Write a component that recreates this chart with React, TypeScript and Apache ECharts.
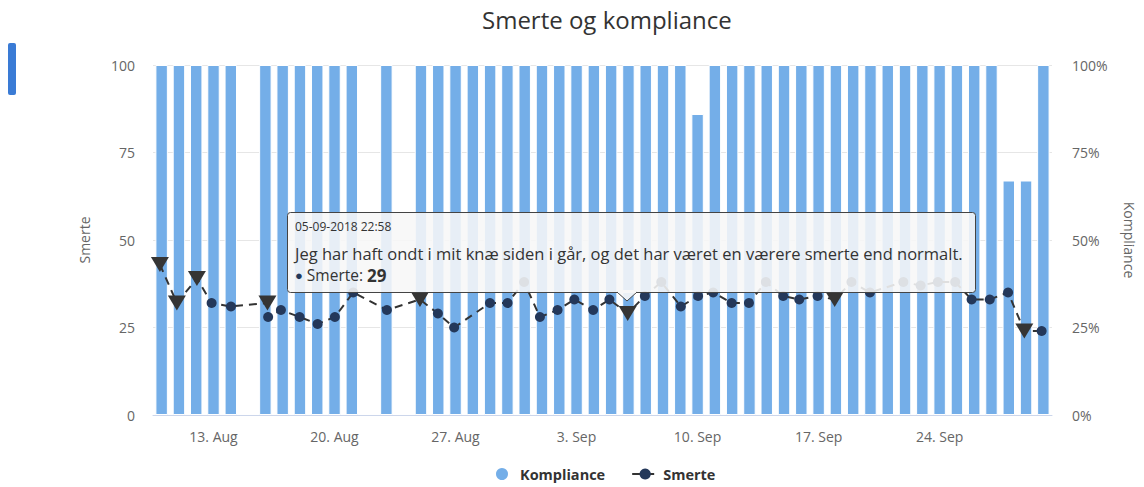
import React, { useEffect, useRef } from 'react';
import * as echarts from 'echarts';

const days = [
  '10. Aug', '11. Aug', '12. Aug', '13. Aug', '14. Aug', '15. Aug', '16. Aug', '17. Aug', '18. Aug', '19. Aug',
  '20. Aug', '21. Aug', '22. Aug', '23. Aug', '24. Aug', '25. Aug', '26. Aug', '27. Aug', '28. Aug', '29. Aug',
  '30. Aug', '31. Aug', '1. Sep', '2. Sep', '3. Sep', '4. Sep', '5. Sep', '6. Sep', '7. Sep', '8. Sep',
  '9. Sep', '10. Sep', '11. Sep', '12. Sep', '13. Sep', '14. Sep', '15. Sep', '16. Sep', '17. Sep', '18. Sep',
  '19. Sep', '20. Sep', '21. Sep', '22. Sep', '23. Sep', '24. Sep', '25. Sep', '26. Sep', '27. Sep', '28. Sep',
  '29. Sep', '30. Sep',
];

const kompliance = [
  100, 100, 100, 100, 100, null, 100, 100, 100, 100,
  100, 100, null, 100, null, 100, 100, 100, 100, 100,
  100, 100, 100, 100, 100, 100, 100, 100, 100, 100,
  100, 86, 100, 100, 100, 100, 100, 100, 100, 100,
  100, 100, 100, 100, 100, 100, 100, 100, 100, 67,
  67, 100,
];

const weekTicks = ['13. Aug', '20. Aug', '27. Aug', '3. Sep', '10. Sep', '17. Sep', '24. Sep'];

const smerteTimes = [
  '2018-08-09 21:36', '2018-08-10 21:07', '2018-08-12 00:58', '2018-08-12 21:22', '2018-08-14 00:14',
  '2018-08-16 02:53', '2018-08-16 03:50', '2018-08-16 21:36', '2018-08-17 23:31', '2018-08-19 00:29',
  '2018-08-20 00:29', '2018-08-21 01:55', '2018-08-23 00:43', '2018-08-24 22:34', '2018-08-25 23:31',
  '2018-08-26 22:05', '2018-08-28 23:46', '2018-08-30 00:14', '2018-08-30 23:10', '2018-08-31 21:07',
  '2018-09-01 21:36', '2018-09-02 20:53', '2018-09-03 23:02', '2018-09-04 21:36', '2018-09-05 22:58',
  '2018-09-06 22:48', '2018-09-07 21:36', '2018-09-09 00:43', '2018-09-10 00:43', '2018-09-10 21:36',
  '2018-09-11 23:17', '2018-09-12 23:17', '2018-09-13 22:48', '2018-09-14 22:48', '2018-09-15 21:07',
  '2018-09-16 22:34', '2018-09-17 22:19', '2018-09-18 21:36', '2018-09-19 23:17', '2018-09-21 21:36',
  '2018-09-22 21:36', '2018-09-23 21:36', '2018-09-24 21:36', '2018-09-25 20:24', '2018-09-26 21:36',
  '2018-09-27 23:02', '2018-09-28 21:36', '2018-09-29 21:36',
];

const smerteValues = [
  43, 32, 39, 32, 31,
  32, 28, 30, 28, 26,
  28, 35, 30, 33, 29,
  25, 32, 32, 38, 28,
  30, 33, 30, 33, 29,
  34, 38, 31, 34, 35,
  32, 32, 38, 34, 33,
  34, 33, 38, 35, 38,
  37, 38, 38, 33, 33,
  35, 24, 24,
];

// 1 = entry with a written note (triangle marker)
const smerteNote = [
  1, 1, 1, 0, 0,
  1, 0, 0, 0, 0,
  0, 0, 0, 1, 0,
  0, 0, 0, 0, 0,
  0, 0, 0, 0, 1,
  0, 0, 0, 0, 0,
  0, 0, 0, 0, 0,
  0, 1, 0, 0, 0,
  0, 0, 0, 0, 0,
  0, 1, 0,
];

const tooltipDate = '05-09-2018 22:58';
const tooltipNote = 'Jeg har haft ondt i mit knæ siden i går, og det har været en værere smerte end normalt.';
const tooltipValue = 29;

const TRI = 'path://M0,0 L12,0 L6,11 Z';
const FONT = 'Open Sans';

export default function App() {
  const ref = useRef<HTMLDivElement>(null);

  useEffect(() => {
    document.body.style.margin = '0';
    const chart = echarts.init(ref.current!, null, { renderer: 'svg' });
    const lineData = smerteTimes.map((t, i) => ({
      value: [t, smerteValues[i]],
      symbol: smerteNote[i] ? TRI : 'circle',
      symbolSize: smerteNote[i] ? [18, 15] : 10,
      itemStyle: { color: smerteNote[i] ? '#353535' : '#24385a' },
    }));
    const TZ = 100;

    chart.setOption({
      animation: false,
      textStyle: { fontFamily: FONT },
      title: {
        text: 'Smerte og kompliance',
        left: 477,
        top: 2,
        textStyle: { fontSize: 24, fontWeight: 'normal', color: '#333', fontFamily: FONT },
      },
      grid: { left: 153, top: 65, width: 899, height: 350 },
      legend: {
        top: 461,
        left: 489,
        itemWidth: 26,
        itemHeight: 14,
        itemGap: 26,
        textStyle: { fontSize: 14.5, fontWeight: 'bold', color: '#333', fontFamily: FONT },
        data: [{ name: 'Kompliance', icon: 'circle' }, { name: 'Smerte' }],
      },
      tooltip: { show: false },
      xAxis: [
        {
          type: 'category',
          data: days,
          axisLine: { lineStyle: { color: '#ccd6eb' } },
          axisTick: { show: false },
          axisLabel: {
            interval: (_i: number, v: string) => weekTicks.includes(v),
            color: '#666',
            fontSize: 14,
            margin: 14,
            fontFamily: FONT,
          },
        },
        {
          type: 'time',
          show: false,
          min: new Date(2018, 7, 9, 12, 0).getTime(),
          max: new Date(2018, 8, 30, 12, 0).getTime(),
        },
      ],
      yAxis: [
        {
          type: 'value',
          min: 0,
          max: 100,
          interval: 25,
          name: 'Smerte',
          nameLocation: 'middle',
          nameGap: 62,
          nameRotate: 90,
          nameTextStyle: { color: '#666', fontSize: 14, fontFamily: FONT },
          axisLabel: { color: '#666', fontSize: 14, margin: 18, fontFamily: FONT },
          axisLine: { show: false },
          axisTick: { show: false },
          splitLine: { lineStyle: { color: '#e6e6e6' } },
        },
        {
          type: 'value',
          position: 'right',
          min: 0,
          max: 100,
          interval: 25,
          name: 'Kompliance',
          nameLocation: 'middle',
          nameGap: 70,
          nameRotate: -90,
          nameTextStyle: { color: '#666', fontSize: 14, fontFamily: FONT },
          axisLabel: { formatter: '{value}%', color: '#666', fontSize: 14, margin: 20, fontFamily: FONT },
          axisLine: { show: false },
          axisTick: { show: false },
          splitLine: { show: false },
        },
      ],
      series: [
        {
          type: 'bar',
          name: 'Kompliance',
          xAxisIndex: 0,
          yAxisIndex: 1,
          data: kompliance,
          barWidth: '72%',
          itemStyle: { color: '#74aee8', borderColor: '#ffffff', borderWidth: 1 },
          z: 1,
        },
        {
          type: 'line',
          name: 'Smerte',
          xAxisIndex: 1,
          yAxisIndex: 0,
          data: lineData,
          symbol: 'circle',
          symbolSize: 10,
          itemStyle: { color: '#24385a' },
          lineStyle: { color: '#333', width: 2, type: [8, 6] },
          z: 3,
        },
      ],
      graphic: [
        {
          type: 'rect',
          left: 8,
          top: 43,
          z: TZ,
          shape: { width: 8, height: 52, r: 2 },
          style: { fill: '#3a7bd5' },
        },
        {
          type: 'polygon',
          z: TZ,
          shape: { points: [[617, 292], [637, 292], [627, 301]] },
          style: { fill: 'rgba(247,247,247,0.9)', stroke: '#444', lineWidth: 1 },
        },
        {
          type: 'rect',
          z: TZ,
          shape: { x: 287.5, y: 212.5, width: 688, height: 80, r: 3 },
          style: { fill: 'rgba(247,247,247,0.88)', stroke: '#444', lineWidth: 1 },
        },
        {
          type: 'rect',
          z: TZ + 1,
          shape: { x: 618, y: 290, width: 18, height: 3 },
          style: { fill: 'rgb(247,247,247)' },
        },
        {
          type: 'text',
          z: TZ + 2,
          x: 295,
          y: 226,
          style: { text: tooltipDate, fontSize: 12, fill: '#333', fontFamily: FONT, verticalAlign: 'middle' },
        },
        {
          type: 'text',
          z: TZ + 2,
          x: 295,
          y: 253,
          style: { text: tooltipNote, fontSize: 16.5, fill: '#333', fontFamily: FONT, verticalAlign: 'middle' },
        },
        {
          type: 'text',
          z: TZ + 2,
          x: 295,
          y: 275,
          style: {
            text: '{d|●} Smerte: {b|' + tooltipValue + '}',
            fontSize: 15.5,
            fill: '#333',
            fontFamily: FONT,
            verticalAlign: 'middle',
            rich: {
              d: { fontSize: 13, fill: '#24385a', fontFamily: FONT },
              b: { fontSize: 17, fontWeight: 'bold', fill: '#333', fontFamily: FONT },
            },
          },
        },
      ],
    });

    return () => chart.dispose();
  }, []);

  return <div ref={ref} style={{ width: 1144, height: 487, background: '#fff' }} />;
}
